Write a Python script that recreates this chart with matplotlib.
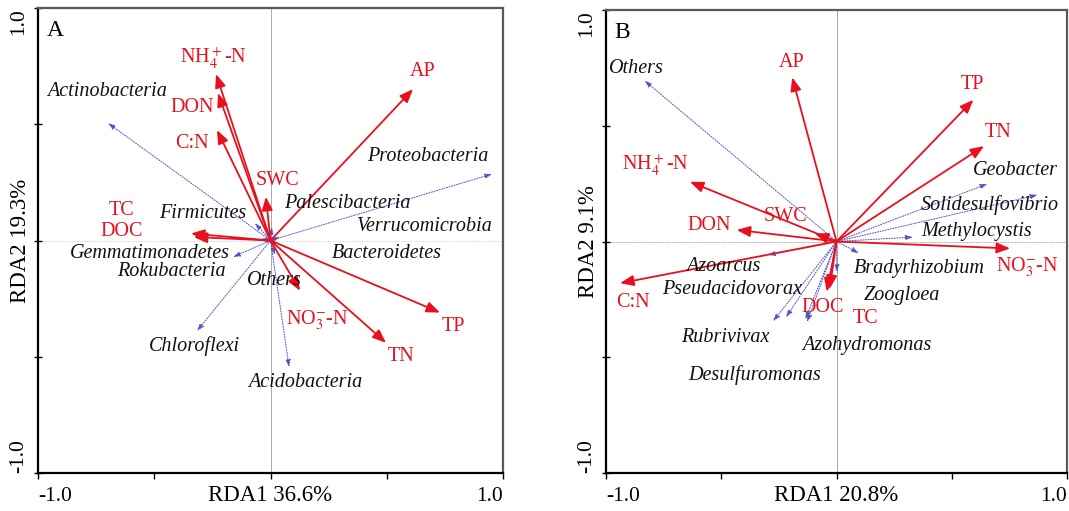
import matplotlib
matplotlib.use("Agg")
import matplotlib.pyplot as plt

plt.rcParams['font.family'] = ['Liberation Serif', 'DejaVu Serif']
plt.rcParams['mathtext.fontset'] = 'stix'

# ---- panel A: phyla ----
env_a = ['NH$_4^+$-N', 'DON', 'C:N', 'SWC', 'TC', 'DOC', 'AP', 'TP', 'TN', 'NO$_3^{-}$-N']
env_a_x = [-0.234, -0.226, -0.230, -0.020, -0.342, -0.330, 0.613, 0.729, 0.497, 0.127]
env_a_y = [0.716, 0.634, 0.475, 0.188, 0.030, 0.015, 0.651, -0.310, -0.440, -0.216]
env_a_lab = [(-0.247, 0.789), (-0.338, 0.574), (-0.338, 0.419), (0.028, 0.260),
             (-0.639, 0.131), (-0.639, 0.037), (0.656, 0.725), (0.785, -0.368),
             (0.561, -0.497), (0.200, -0.342)]

sp_a = ['Actinobacteria', 'Proteobacteria', 'Firmicutes', 'Palescibacteria',
        'Verrucomicrobia', 'Gemmatimonadetes', 'Rokubacteria', 'Bacteroidetes',
        'Others', 'Chloroflexi', 'Acidobacteria']
sp_a_x = [-0.699, 0.953, -0.067, 0.006, 0.040, -0.161, -0.045, 0.025, 0.019, -0.316, 0.080]
sp_a_y = [0.505, 0.286, 0.075, 0.058, 0.015, -0.071, 0.006, -0.020, -0.062, -0.389, -0.544]
sp_a_lab = [(-0.703, 0.643), (0.677, 0.363), (-0.290, 0.118), (0.329, 0.161),
            (0.665, 0.062), (-0.518, -0.054), (-0.424, -0.135), (0.501, -0.054),
            (0.019, -0.170), (-0.325, -0.454), (0.148, -0.609)]

# ---- panel B: genera ----
env_b = ['AP', 'TP', 'TN', 'NH$_4^+$-N', 'DON', 'SWC', 'NO$_3^{-}$-N', 'C:N', 'DOC', 'TC']
env_b_x = [-0.192, 0.594, 0.640, -0.636, -0.433, -0.094, 0.753, -0.939, -0.042, -0.030]
env_b_y = [0.709, 0.612, 0.412, 0.258, 0.050, 0.035, -0.030, -0.180, -0.217, -0.205]
env_b_lab = [(-0.193, 0.773), (0.591, 0.677), (0.703, 0.470), (-0.786, 0.331),
             (-0.552, 0.067), (-0.223, 0.106), (0.829, -0.110), (-0.881, -0.262),
             (-0.058, -0.284), (0.128, -0.331)]

sp_b = ['Others', 'Geobacter', 'Solidesulfovibrio', 'Methylocystis', 'Bradyrhizobium',
        'Zoogloea', 'Azohydromonas', 'Azoarcus', 'Pseudacidovorax', 'Rubrivivax',
        'Desulfuromonas']
sp_b_x = [-0.833, 0.655, 0.872, 0.331, 0.097, 0.002, -0.128, -0.298, -0.219, -0.275, -0.135]
sp_b_y = [0.695, 0.249, 0.201, 0.019, -0.050, -0.132, -0.348, -0.058, -0.327, -0.344, -0.335]
sp_b_lab = [(-0.868, 0.747), (0.777, 0.305), (0.665, 0.158), (0.608, 0.045),
            (0.361, -0.115), (0.283, -0.232), (0.132, -0.448), (-0.491, -0.110),
            (-0.452, -0.206), (-0.483, -0.413), (-0.357, -0.578)]

RED = '#e8101c'
BLUE = '#5050c8'
W, H = 1069, 511


def draw_panel(ax, letter, xlab, ylab, env, ex, ey, elab, sp, sx, sy, slab, hline_col):
    ax.set_xlim(-1, 1)
    ax.set_ylim(-1, 1)
    ax.axvline(0, color='#a8a8a8', lw=0.7, zorder=0)
    ax.axhline(0, color=hline_col, lw=0.7, ls=(0, (1.5, 1)), zorder=0)

    # species vectors (dotted blue)
    for name, x, y, (lx, ly) in zip(sp, sx, sy, slab):
        ax.annotate('', xy=(x, y), xytext=(0, 0),
                    arrowprops=dict(arrowstyle='-|>,head_length=0.35,head_width=0.12',
                                    mutation_scale=12, color=BLUE, lw=0.7,
                                    linestyle=(0, (1.2, 1.5)),
                                    shrinkA=0, shrinkB=0), zorder=2)
        ax.text(lx, ly, name, style='italic', fontsize=14.5, ha='center', va='center',
                color='#111111', zorder=4)

    # environmental vectors (red)
    for name, x, y, (lx, ly) in zip(env, ex, ey, elab):
        ax.annotate('', xy=(x, y), xytext=(0, 0),
                    arrowprops=dict(arrowstyle='-|>,head_length=0.45,head_width=0.18',
                                    mutation_scale=18, color=RED, lw=1.3,
                                    shrinkA=0, shrinkB=0), zorder=3)
        ax.text(lx, ly, name, fontsize=14.5, ha='center', va='center', color=RED, zorder=4)

    for s in ['left', 'bottom']:
        ax.spines[s].set_color('black')
        ax.spines[s].set_linewidth(1.6)
    for s in ['top', 'right']:
        ax.spines[s].set_color('#5a5a5a')
        ax.spines[s].set_linewidth(1.6)

    ticks = [-1, -0.5, 0, 0.5, 1]
    ax.set_xticks(ticks)
    ax.set_xticklabels(['-1.0', '', '', '', '1.0'], fontsize=15.5)
    ax.set_yticks(ticks)
    ax.set_yticklabels(['-1.0', '', '', '', '1.0'], fontsize=15.5, rotation=90)
    ax.tick_params(axis='x', direction='out', length=4, width=1, pad=6)
    ax.tick_params(axis='y', direction='inout', length=6, width=1, pad=4)
    xl = ax.get_xticklabels()
    xl[0].set_ha('left')
    xl[-1].set_ha('right')
    yl = ax.get_yticklabels()
    yl[0].set_va('bottom')
    yl[-1].set_va('top')

    ax.text(0.5, -0.048, xlab, transform=ax.transAxes, fontsize=16.5, ha='center', va='center')
    ax.text(-0.038, 0.5, ylab, transform=ax.transAxes, fontsize=16.5, ha='center',
            va='center', rotation=90)
    ax.text(0.018, 0.975, letter, transform=ax.transAxes, fontsize=17, ha='left', va='top')


fig = plt.figure(figsize=(W / 100, H / 100), dpi=100)
ax_a = fig.add_axes([38 / W, 38 / H, 465 / W, 465 / H])
ax_b = fig.add_axes([606 / W, 38 / H, 461 / W, 463 / H])

draw_panel(ax_a, 'A', 'RDA1 36.6%', 'RDA2 19.3%', env_a, env_a_x, env_a_y, env_a_lab,
           sp_a, sp_a_x, sp_a_y, sp_a_lab, '#dcdcdc')
draw_panel(ax_b, 'B', 'RDA1 20.8%', 'RDA2 9.1%', env_b, env_b_x, env_b_y, env_b_lab,
           sp_b, sp_b_x, sp_b_y, sp_b_lab, '#a8a8a8')

fig.savefig('out.png', dpi=100)
